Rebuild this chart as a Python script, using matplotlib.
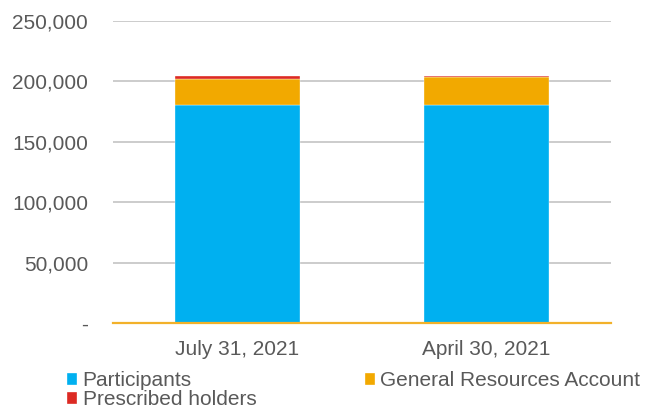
import matplotlib
matplotlib.use("Agg")
import matplotlib.pyplot as plt
import matplotlib.ticker as ticker
import numpy as np

plt.rcParams["font.family"] = ["Liberation Sans", "DejaVu Sans"]

CATEGORIES = ["July 31, 2021", "April 30, 2021"]
SERIES = ["Participants", "General Resources Account", "Prescribed holders"]
PARTICIPANTS = [180200, 180200]
GRA = [21800, 23100]
PRESCRIBED = [2500, 1500]
COLORS = ["#00B0F0", "#F2A900", "#DC2A23"]
Y_TICKS = [0, 50000, 100000, 150000, 200000, 250000]

TEXT_COLOR = "#595959"


def fmt(v, pos):
    if v == 0:
        return "-"
    return f"{v:,.0f}"


fig = plt.figure(figsize=(6.55, 4.08), dpi=100)
ax = fig.add_axes([113 / 655, 1 - 323 / 408, 498 / 655, 302 / 408])

x = np.arange(len(CATEGORIES))
bottom = np.zeros(len(CATEGORIES))
handles = []
for name, vals, col in zip(SERIES, [PARTICIPANTS, GRA, PRESCRIBED], COLORS):
    b = ax.bar(x, vals, 0.5, bottom=bottom, color=col, edgecolor="white",
               linewidth=0.25, label=name, zorder=3)
    handles.append(b)
    bottom += np.array(vals)

ax.set_xlim(-0.5, 1.5)
ax.set_ylim(0, 250000)
ax.set_yticks(Y_TICKS)
ax.yaxis.set_major_formatter(ticker.FuncFormatter(fmt))
ax.grid(axis="y", color="#C8C8C8", linewidth=1.3, zorder=0)
ax.set_axisbelow(True)
for s in ["top", "right", "left"]:
    ax.spines[s].set_visible(False)
ax.spines["bottom"].set_color("#F2B12A")
ax.spines["bottom"].set_linewidth(1.6)
ax.spines["bottom"].set_zorder(4)

ax.set_xticks(x)
ax.set_xticklabels(CATEGORIES)
ax.tick_params(axis="x", length=0, pad=12.5, labelsize=15, labelcolor=TEXT_COLOR)
ax.tick_params(axis="y", length=0, pad=18, labelsize=15, labelcolor=TEXT_COLOR)

# column order: Participants, Prescribed holders | General Resources Account
leg = fig.legend([handles[0], handles[2], handles[1]],
                 [SERIES[0], SERIES[2], SERIES[1]],
                 ncol=2, loc="upper left", bbox_to_anchor=(67 / 655, 1 - 371 / 408),
                 frameon=False, fontsize=15, handlelength=0.5, handleheight=0.5,
                 handletextpad=0.25, columnspacing=5.2, labelspacing=0.0,
                 borderaxespad=0, borderpad=0)
for t in leg.get_texts():
    t.set_color(TEXT_COLOR)

fig.savefig("out.png", dpi=100)
